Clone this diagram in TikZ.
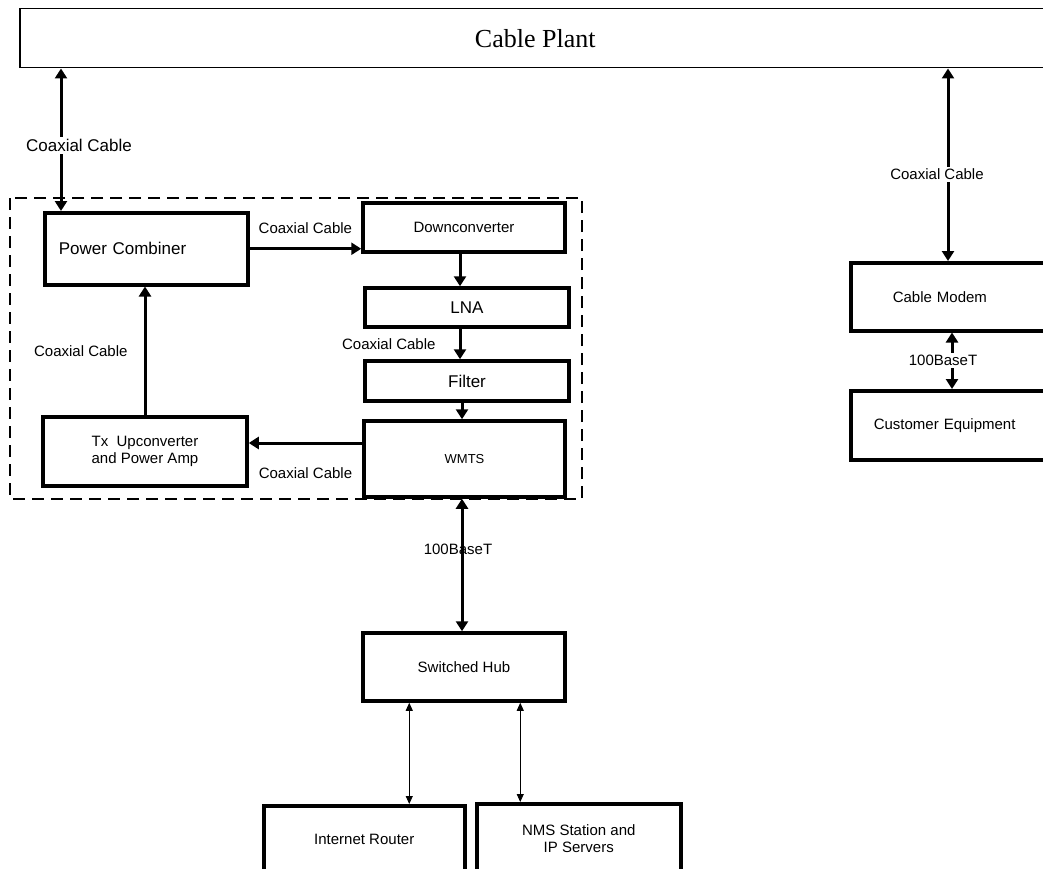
\documentclass[tikz,border=0pt]{standalone}
\usepackage{fontspec}
\setmainfont{Liberation Sans}
\newfontfamily\plantfont{Liberation Serif}
\usetikzlibrary{arrows.meta}
\begin{document}
\begin{tikzpicture}[x=1pt,y=-1pt,>={Triangle[length=10pt,width=12pt]},
		box/.style={draw,line width=3.5pt,inner sep=0pt,align=center,font=\fontsize{15}{17}\selectfont},
		wire/.style={line width=3pt},
		thinwire/.style={line width=0.8pt,>={Triangle[length=8pt,width=7pt]}},
		lbl/.style={inner sep=2pt,font=\fontsize{15}{17}\selectfont}]
		\useasboundingbox (0,0) rectangle (1043,869);
		\node[draw,line width=1.5pt,minimum width=1031pt,minimum height=59pt,anchor=north west,font=\plantfont\fontsize{26}{30}\selectfont] (plant) at (19,8) {Cable Plant};
		\draw[line width=1.2pt,dash pattern=on 12pt off 7pt] (10,198) rectangle (582,499);
		\node[box,anchor=north west,minimum height=72pt,text width=175pt,inner xsep=14pt,align=left,font=\fontsize{17}{20}\selectfont] (pc) at (43,211) {Power Combiner};
		\node[box,minimum width=202pt,minimum height=49pt] (dc) at (464,227.5) {Downconverter};
		\node[box,minimum width=204pt,minimum height=39pt,font=\fontsize{17}{20}\selectfont] (lna) at (467,307.5) {LNA};
		\node[box,minimum width=204pt,minimum height=40pt,font=\fontsize{17}{20}\selectfont] (filt) at (467,381) {Filter};
		\node[box,minimum width=201pt,minimum height=76pt,font=\fontsize{13}{15}\selectfont] (wmts) at (464.5,459) {WMTS};
		\node[box,minimum width=204pt,minimum height=69pt] (tx) at (145,451.5) {Tx\ \ Upconverter\\and Power Amp};
		\node[box,anchor=north west,minimum height=68pt,text width=127pt,inner xsep=42pt,align=left] (cm) at (849,261) {Cable Modem};
		\node[box,anchor=north west,minimum height=69pt,text width=165pt,inner xsep=23pt,align=left] (ce) at (849,389) {Customer Equipment};
		\node[box,minimum width=202pt,minimum height=68pt] (hub) at (464,667) {Switched Hub};
		\node[box,anchor=north west,minimum width=201pt,minimum height=68pt] (rtr) at (262,804) {Internet Router};
		\node[box,anchor=north west,minimum width=204pt,minimum height=70pt] (nms) at (475,802) {NMS Station and\\IP Servers};
		\coordinate (pcin) at ([xshift=18pt]pc.north west);
		\coordinate (cmin) at ([xshift=99pt]cm.north west);
		\coordinate (cmout) at ([xshift=103pt]cm.south west);
		\coordinate (rtrup) at ([xshift=48pt]hub.south west);
		\coordinate (nmsup) at ([xshift=159pt]hub.south west);
		\draw[wire,<->] (plant.south -| pcin) -- (pcin) node[pos=0.54,lbl,fill=white,xshift=18pt,font=\fontsize{17}{20}\selectfont] {Coaxial Cable};
		\draw[wire,<->] (plant.south -| cmin) -- (cmin) node[pos=0.55,lbl,fill=white,xshift=-11pt] {Coaxial Cable};
		\draw[wire,<->] (cmout) -- (cmout |- ce.north) node[midway,lbl,fill=white,xshift=-9pt] {100BaseT};
		\draw[wire,->] (pc.east) -- (pc.east -| dc.west) node[midway,lbl,above=12pt] {Coaxial Cable};
		\draw[wire,->] ([xshift=-4pt]dc.south) -- ([xshift=-4pt]dc.south |- lna.north);
		\draw[wire,->] ([xshift=-7pt]lna.south) -- ([xshift=-7pt]lna.south |- filt.north) node[midway,lbl,left=21pt] {Coaxial Cable};
		\draw[wire,->] ([xshift=-5pt]filt.south) -- ([xshift=-5pt]filt.south |- wmts.north);
		\draw[wire,->] ([yshift=16pt]wmts.west) -- ([yshift=16pt]wmts.west -| tx.east) node[midway,lbl,below=21pt] {Coaxial Cable};
		\draw[wire,->] (tx.north) -- (tx.north |- pc.south) node[midway,lbl,left=14pt] {Coaxial Cable};
		\draw[wire,<->] ([xshift=-2.5pt]wmts.south) -- ([xshift=-2.5pt]wmts.south |- hub.north) node[pos=0.38,lbl,xshift=-4pt] {100BaseT};
		\draw[thinwire,<->] (rtrup) -- (rtrup |- rtr.north);
		\draw[thinwire,<->] (nmsup) -- (nmsup |- nms.north);
	\end{tikzpicture}
\end{document}
